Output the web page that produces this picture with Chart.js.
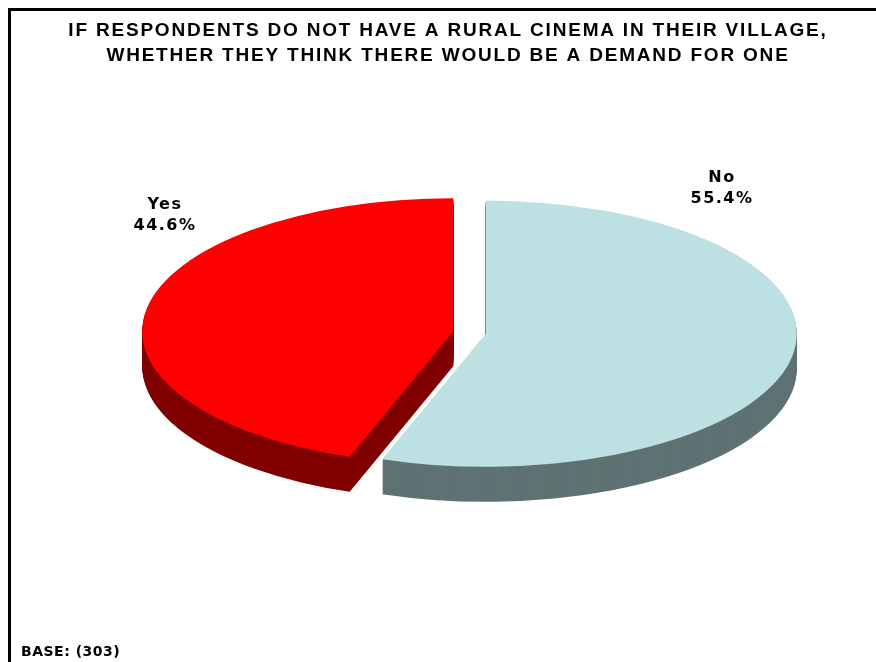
<!DOCTYPE html>
<html>
<head>
  <title>Rural cinema demand</title>
  <style>
    html, body { margin: 0; padding: 0; background: #fff; }
    canvas { display: block; }
  </style>
</head>
<body>

  <canvas id="pieChart" width="876" height="662"></canvas>

  <script src="https://cdn.jsdelivr.net/npm/chart.js"></script>
  <script>
    const labels = ["No", "Yes"];
    const shares = [55.4, 44.6];
    const topColors = ["#bde0e3", "#ff0000"];
    const sideColors = ["#5f7273", "#800000"];
    const titleLines = [
      "IF RESPONDENTS DO NOT HAVE A RURAL CINEMA IN THEIR VILLAGE,",
      "WHETHER THEY THINK THERE WOULD BE A DEMAND FOR ONE"
    ];
    const baseNote = "BASE: (303)";

    const TILT = 0.428;   // vertical squash of the pie
    const DEPTH = 35;     // height of the side wall in px
    const SHIFT_X = 21.5; // pie sits a bit right of the title centre
    const EXPLODE = 16.5; // how far each slice is pulled out

    // draw one arc moved out along its middle angle, optionally recoloured
    function drawArc(ctx, arc, color, dy) {
      const mid = (arc.startAngle + arc.endAngle) / 2;
      const o = arc.options;
      if (color) arc.options = Object.assign({}, o, { backgroundColor: color, borderWidth: 0 });
      ctx.save();
      ctx.translate(Math.cos(mid) * EXPLODE, Math.sin(mid) * EXPLODE + dy);
      arc.draw(ctx);
      ctx.restore();
      arc.options = o;
    }

    // fake 3d: squash the pie and stack darker copies underneath
    const pie3d = {
      id: "pie3d",
      beforeDraw(chart) {
        const ctx = chart.ctx;
        ctx.save();
        ctx.fillStyle = "#fff";
        ctx.fillRect(0, 0, chart.width, chart.height);
        ctx.strokeStyle = "#000";
        ctx.lineWidth = 3;
        ctx.beginPath();
        ctx.moveTo(9.5, chart.height);
        ctx.lineTo(9.5, 9.5);
        ctx.lineTo(chart.width, 9.5);
        ctx.stroke();
        ctx.restore();
        ctx.letterSpacing = "1.8px"; // title tracking
      },
      beforeDatasetsDraw(chart) {
        const ctx = chart.ctx;
        const arcs = chart.getDatasetMeta(0).data;
        const cx = arcs[0].x, cy = arcs[0].y;
        ctx.save();
        ctx.translate(cx + SHIFT_X, cy);
        ctx.scale(1, TILT);
        ctx.translate(-cx, -cy);
        for (let d = DEPTH; d >= 1; d--) {
          arcs.forEach((arc, i) => drawArc(ctx, arc, sideColors[i], d / TILT));
        }
        arcs.forEach(arc => drawArc(ctx, arc, null, 0));
        ctx.restore();
        return false; // tops already drawn above
      },
      afterDraw(chart, args, opts) {
        const ctx = chart.ctx;
        const arcs = chart.getDatasetMeta(0).data;
        const px = arcs[0].x + SHIFT_X, py = arcs[0].y;
        ctx.save();
        ctx.fillStyle = "#000";
        ctx.font = "bold 16px 'DejaVu Sans', Verdana, sans-serif";
        ctx.letterSpacing = "1.5px";
        ctx.textAlign = "center";
        ctx.textBaseline = "middle";
        arcs.forEach((arc, i) => {
          const [dx, dy] = opts.spots[i];
          ctx.fillText(labels[i], px + dx + 1, py + dy - 10.5);
          ctx.fillText(shares[i].toFixed(1) + "%", px + dx + 1, py + dy + 10.5);
        });
        ctx.font = "bold 14px 'DejaVu Sans', Verdana, sans-serif";
        ctx.letterSpacing = "0.5px";
        ctx.textAlign = "left";
        ctx.fillText(baseNote, 21, 652);
        ctx.restore();
      }
    };

    new Chart(document.getElementById("pieChart"), {
      type: "pie",
      data: {
        labels: labels,
        datasets: [{
          data: shares,
          backgroundColor: topColors,
          borderWidth: 0,
          clip: false
        }]
      },
      options: {
        responsive: false,
        animation: false,
        radius: 311,
        layout: { padding: { left: 20, right: 0, top: 0, bottom: 67 } },
        plugins: {
          legend: { display: false },
          tooltip: { enabled: false },
          title: {
            display: true,
            text: titleLines,
            color: "#000",
            font: { family: "'Liberation Sans', Arial, sans-serif", size: 19, weight: "bold", lineHeight: "25px" },
            padding: { top: 18, bottom: 2 }
          },
          pie3d: { spots: [[251.5, -144], [-305.5, -117]] }
        }
      },
      plugins: [pie3d]
    });
  </script>
</body>
</html>
